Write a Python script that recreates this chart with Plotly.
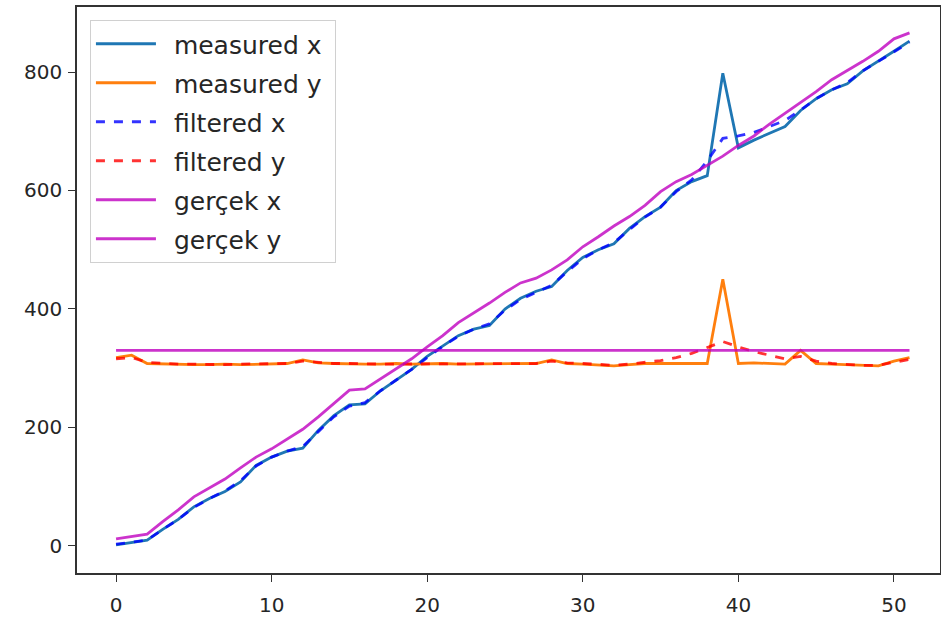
import plotly.graph_objects as go

steps = list(range(52))

measured_x = [2, 6, 10, 28, 45, 66, 80, 92, 108, 136, 150, 160, 165, 195, 220, 238, 240, 262, 280, 298,
              320, 338, 355, 366, 372, 400, 418, 430, 438, 465, 487, 500, 510, 536, 556, 572, 600, 615, 625, 798,
              672, 685, 697, 708, 735, 755, 770, 780, 802, 818, 835, 852]
measured_y = [318, 322, 308, 307, 307, 306, 306, 307, 306, 307, 308, 308, 314, 309, 308, 307, 307, 307, 308, 307,
              308, 308, 307, 307, 307, 308, 308, 308, 314, 308, 307, 305, 304, 306, 308, 308, 308, 308, 308, 450,
              308, 309, 308, 307, 330, 308, 307, 306, 305, 304, 312, 318]
filtered_x = [3, 6, 10, 28, 45, 65, 80, 93, 110, 135, 150, 160, 168, 193, 218, 236, 242, 262, 280, 298,
              318, 337, 354, 366, 375, 398, 416, 428, 440, 463, 485, 500, 512, 534, 555, 572, 598, 618, 650, 688,
              692, 698, 708, 718, 736, 755, 770, 782, 802, 818, 835, 850]
filtered_y = [316, 318, 310, 308, 307, 307, 306, 306, 307, 307, 307, 308, 312, 310, 308, 308, 307, 307, 307, 307,
              308, 308, 307, 307, 307, 307, 308, 308, 312, 309, 308, 306, 305, 307, 310, 313, 318, 325, 335, 345,
              336, 328, 322, 316, 320, 312, 308, 306, 305, 305, 310, 315]
true_x = [12, 16, 20, 41, 61, 83, 98, 113, 132, 150, 164, 180, 197, 218, 240, 263, 265, 282, 298, 316,
          336, 355, 377, 393, 410, 428, 444, 452, 466, 483, 505, 522, 540, 556, 575, 598, 615, 627, 642, 658,
          676, 692, 712, 730, 748, 767, 787, 802, 818, 835, 856, 866]
true_y = [330] * 52

x_ticks = [0, 10, 20, 30, 40, 50]
y_ticks = [0, 200, 400, 600, 800]

series = [
    ("measured x", measured_x, "#1f77b4", "solid"),
    ("measured y", measured_y, "#ff7f0e", "solid"),
    ("filtered x", filtered_x, "rgba(0,0,255,0.8)", "dash"),
    ("filtered y", filtered_y, "rgba(255,0,0,0.8)", "dash"),
    ("gerçek x", true_x, "rgba(191,0,191,0.8)", "solid"),
    ("gerçek y", true_y, "rgba(191,0,191,0.8)", "solid"),
]

fig = go.Figure()
for i, (name, vals, color, dash) in enumerate(series):
    fig.add_trace(go.Scatter(x=steps, y=vals, mode="lines", name="\u00a0\u2009" + name + "\u00a0",
                             legendgroup=f"g{i}",
                             line=dict(color=color, width=2.8, dash=dash)))

axis_common = dict(showgrid=False, zeroline=False, showline=True, mirror=True, linecolor="#333",
                   linewidth=1.5, ticks="outside", ticklen=7, tickwidth=1.3, tickcolor="#333",
                   automargin=False,
                   tickfont=dict(family="DejaVu Sans", size=20, color="#262626"))

fig.update_layout(
    width=941, height=622,
    margin=dict(l=77, r=1, t=7, b=49),
    plot_bgcolor="white", paper_bgcolor="white",
    xaxis=dict(range=[-2.51, 52.96], tickvals=x_ticks, ticklabelstandoff=6, **axis_common),
    yaxis=dict(range=[-45.6, 909.7], tickvals=y_ticks, ticklabelstandoff=2, **axis_common),
    showlegend=True,
    legend=dict(x=0.015, y=0.977, xanchor="left", yanchor="top", traceorder="grouped",
                tracegroupgap=3.5, itemwidth=60, bgcolor="rgba(255,255,255,0.8)", bordercolor="#d0d0d0",
                borderwidth=1,
                font=dict(family="DejaVu Sans", size=25, color="#262626")),
)

fig.write_html("out.html", config={"displayModeBar": False},
               post_script="document.body.style.margin='0';")
